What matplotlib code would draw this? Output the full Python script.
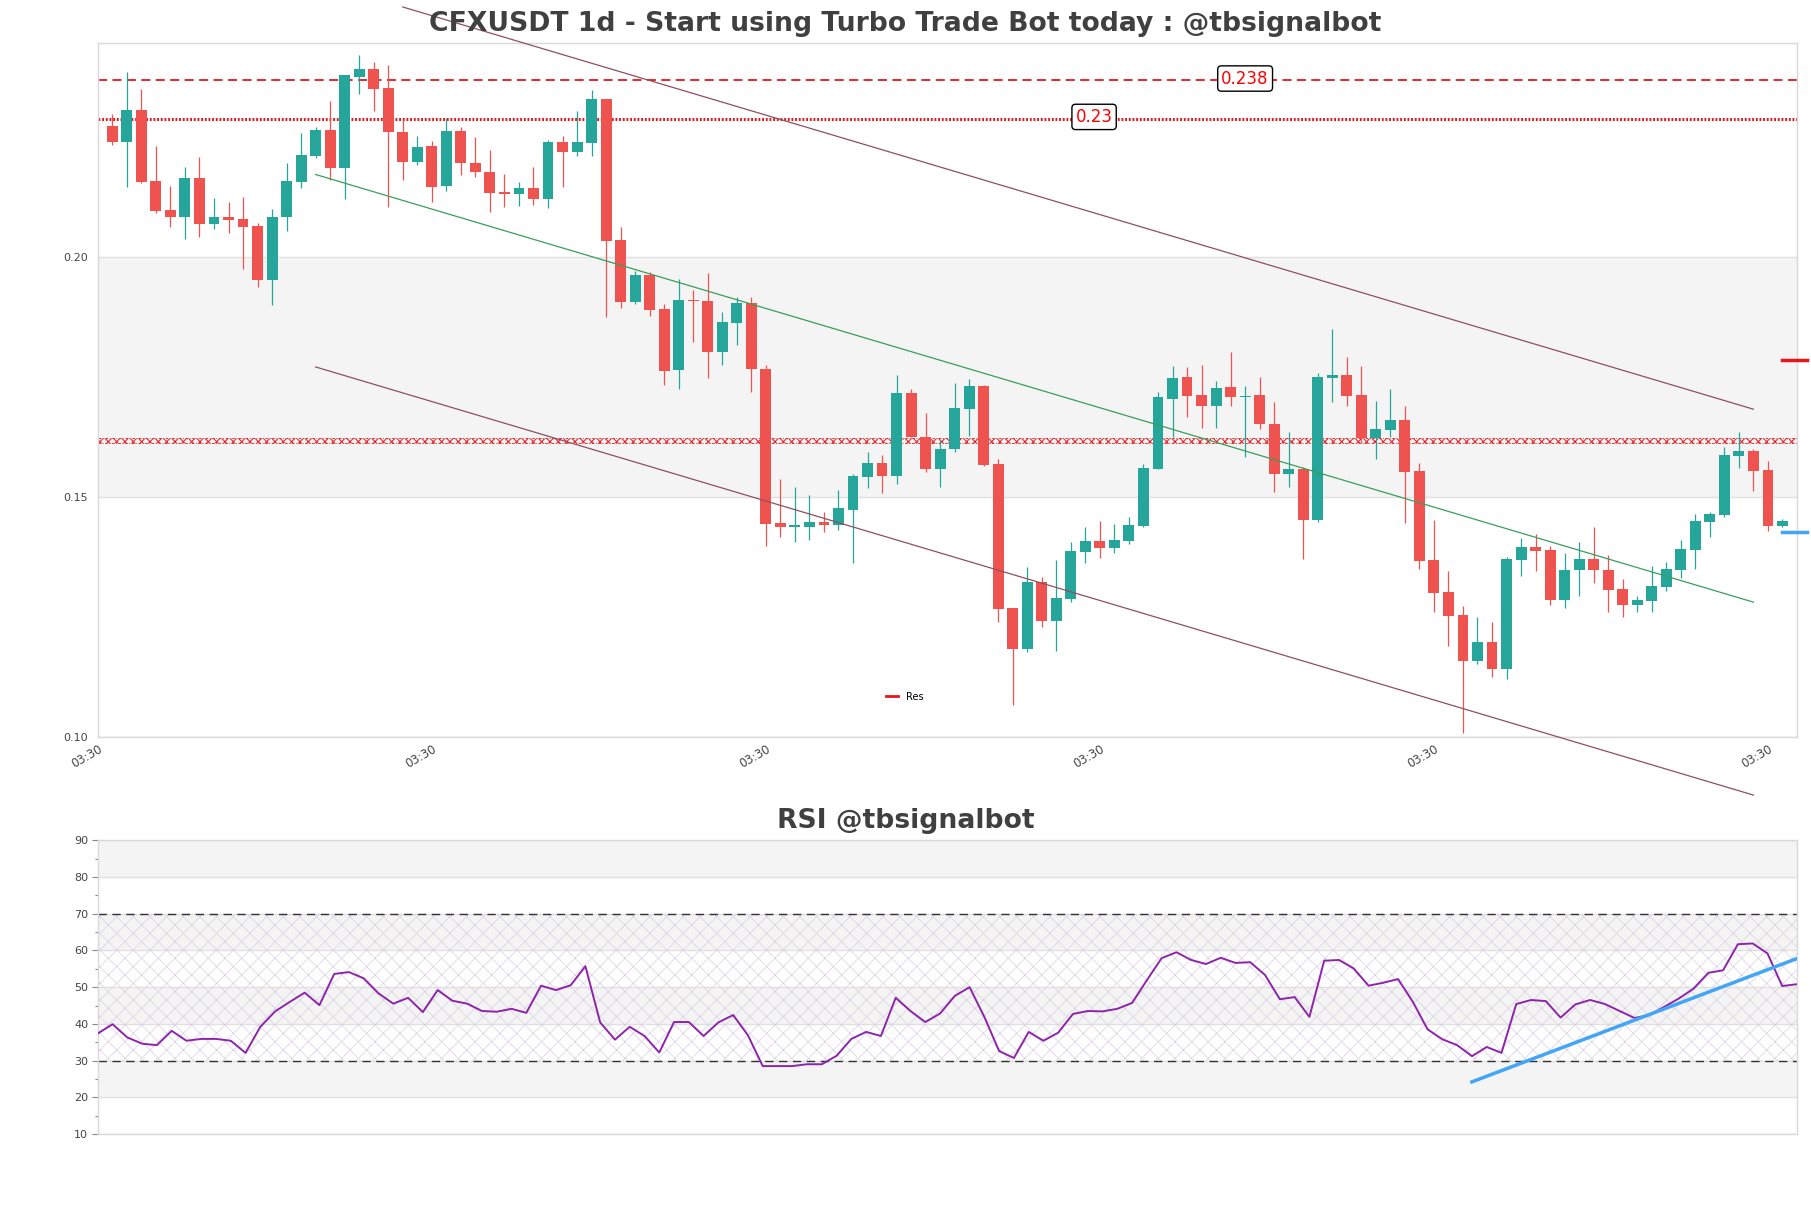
import matplotlib
matplotlib.use('Agg')
from matplotlib import pyplot as plt
from matplotlib.lines import Line2D

# candles (open, high, low, close)
opens = [0.2273, 0.2240, 0.2306, 0.2158, 0.2098, 0.2084, 0.2164, 0.2069, 0.2083, 0.2079,
         0.2065, 0.1952, 0.2083, 0.2157, 0.2211, 0.2264, 0.2186, 0.2376, 0.2392, 0.2352,
         0.2261, 0.2199, 0.2231, 0.2149, 0.2262, 0.2196, 0.2177, 0.2135, 0.2132, 0.2143,
         0.2121, 0.2240, 0.2219, 0.2238, 0.2330, 0.2035, 0.1907, 0.1962, 0.1891, 0.1764,
         0.1909, 0.1908, 0.1803, 0.1863, 0.1905, 0.1766, 0.1445, 0.1438, 0.1438, 0.1448,
         0.1442, 0.1474, 0.1542, 0.1570, 0.1544, 0.1716, 0.1626, 0.1558, 0.1600, 0.1683,
         0.1731, 0.1568, 0.1268, 0.1184, 0.1323, 0.1242, 0.1288, 0.1386, 0.1408, 0.1394,
         0.1409, 0.1440, 0.1559, 0.1704, 0.1751, 0.1712, 0.1690, 0.1730, 0.1708, 0.1712,
         0.1653, 0.1549, 0.1558, 0.1452, 0.1749, 0.1754, 0.1712, 0.1622, 0.1640, 0.1660,
         0.1554, 0.1369, 0.1302, 0.1254, 0.1159, 0.1198, 0.1142, 0.1369, 0.1396, 0.1390,
         0.1285, 0.1347, 0.1371, 0.1348, 0.1308, 0.1274, 0.1284, 0.1313, 0.1348, 0.1390,
         0.1449, 0.1462, 0.1586, 0.1596, 0.1556, 0.1440]
highs = [0.2299, 0.2386, 0.2351, 0.2232, 0.2148, 0.2187, 0.2208, 0.2123, 0.2114, 0.2125,
         0.2071, 0.2101, 0.2195, 0.2258, 0.2272, 0.2325, 0.2379, 0.2421, 0.2406, 0.2400,
         0.2285, 0.2252, 0.2242, 0.2290, 0.2270, 0.2250, 0.2223, 0.2174, 0.2156, 0.2188,
         0.2244, 0.2252, 0.2304, 0.2348, 0.2330, 0.2063, 0.1971, 0.1969, 0.1902, 0.1955,
         0.1931, 0.1966, 0.1886, 0.1917, 0.1917, 0.1776, 0.1537, 0.1521, 0.1505, 0.1469,
         0.1514, 0.1549, 0.1593, 0.1587, 0.1754, 0.1726, 0.1676, 0.1619, 0.1737, 0.1745,
         0.1733, 0.1579, 0.1268, 0.1355, 0.1333, 0.1369, 0.1407, 0.1438, 0.1450, 0.1444,
         0.1459, 0.1568, 0.1718, 0.1773, 0.1771, 0.1776, 0.1742, 0.1802, 0.1732, 0.1751,
         0.1697, 0.1635, 0.1562, 0.1759, 0.1850, 0.1792, 0.1773, 0.1700, 0.1725, 0.1690,
         0.1570, 0.1453, 0.1345, 0.1273, 0.1249, 0.1240, 0.1376, 0.1414, 0.1423, 0.1397,
         0.1383, 0.1407, 0.1438, 0.1379, 0.1329, 0.1294, 0.1356, 0.1365, 0.1410, 0.1465,
         0.1468, 0.1605, 0.1635, 0.1601, 0.1576, 0.1454]
lows = [0.2233, 0.2145, 0.2155, 0.2091, 0.2063, 0.2038, 0.2042, 0.2059, 0.2051, 0.1976,
        0.1937, 0.1901, 0.2055, 0.2143, 0.2206, 0.2160, 0.2120, 0.2340, 0.2305, 0.2105,
        0.2160, 0.2192, 0.2114, 0.2138, 0.2170, 0.2167, 0.2093, 0.2105, 0.2107, 0.2109,
        0.2103, 0.2147, 0.2211, 0.2211, 0.1876, 0.1893, 0.1902, 0.1878, 0.1733, 0.1725,
        0.1824, 0.1749, 0.1775, 0.1817, 0.1719, 0.1398, 0.1416, 0.1407, 0.1410, 0.1428,
        0.1431, 0.1362, 0.1518, 0.1509, 0.1528, 0.1626, 0.1553, 0.1520, 0.1593, 0.1628,
        0.1565, 0.1240, 0.1067, 0.1178, 0.1230, 0.1180, 0.1281, 0.1363, 0.1374, 0.1384,
        0.1403, 0.1438, 0.1558, 0.1626, 0.1667, 0.1644, 0.1644, 0.1690, 0.1584, 0.1642,
        0.1511, 0.1521, 0.1371, 0.1448, 0.1697, 0.1690, 0.1612, 0.1580, 0.1626, 0.1445,
        0.1351, 0.1261, 0.1190, 0.1009, 0.1153, 0.1124, 0.1121, 0.1335, 0.1346, 0.1275,
        0.1269, 0.1294, 0.1320, 0.1261, 0.1251, 0.1261, 0.1261, 0.1305, 0.1331, 0.1351,
        0.1416, 0.1458, 0.1561, 0.1513, 0.1430, 0.1438]
closes = [0.2240, 0.2306, 0.2157, 0.2097, 0.2084, 0.2164, 0.2069, 0.2083, 0.2078, 0.2063,
          0.1952, 0.2084, 0.2158, 0.2212, 0.2264, 0.2186, 0.2379, 0.2392, 0.2351, 0.2261,
          0.2199, 0.2229, 0.2147, 0.2262, 0.2195, 0.2178, 0.2134, 0.2132, 0.2143, 0.2121,
          0.2240, 0.2219, 0.2240, 0.2330, 0.2034, 0.1907, 0.1962, 0.1890, 0.1763, 0.1910,
          0.1908, 0.1803, 0.1864, 0.1905, 0.1766, 0.1444, 0.1438, 0.1440, 0.1448, 0.1442,
          0.1478, 0.1544, 0.1570, 0.1544, 0.1716, 0.1626, 0.1558, 0.1601, 0.1685, 0.1731,
          0.1567, 0.1266, 0.1184, 0.1323, 0.1242, 0.1290, 0.1388, 0.1408, 0.1394, 0.1410,
          0.1442, 0.1560, 0.1709, 0.1749, 0.1711, 0.1690, 0.1728, 0.1708, 0.1711, 0.1653,
          0.1549, 0.1558, 0.1453, 0.1751, 0.1755, 0.1711, 0.1622, 0.1642, 0.1660, 0.1553,
          0.1367, 0.1301, 0.1253, 0.1159, 0.1198, 0.1142, 0.1371, 0.1396, 0.1388, 0.1285,
          0.1348, 0.1371, 0.1347, 0.1306, 0.1274, 0.1285, 0.1315, 0.1350, 0.1392, 0.1450,
          0.1465, 0.1587, 0.1596, 0.1555, 0.1440, 0.1450]

rsi = [37.4, 39.9, 36.3, 34.6, 34.2, 38.1, 35.4, 35.9, 35.9, 35.4,
       32.1, 39.2, 43.4, 46.0, 48.5, 45.1, 53.6, 54.1, 52.4, 48.3,
       45.5, 47.1, 43.2, 49.2, 46.3, 45.5, 43.5, 43.3, 44.1, 43.0,
       50.4, 49.2, 50.5, 55.7, 40.4, 35.7, 39.2, 36.7, 32.2, 40.5,
       40.5, 36.7, 40.4, 42.4, 36.9, 28.5, 28.5, 28.5, 29.0, 29.0,
       31.3, 35.9, 37.8, 36.7, 47.1, 43.5, 40.5, 42.8, 47.6, 50.0,
       41.9, 32.6, 30.7, 37.8, 35.4, 37.6, 42.7, 43.5, 43.4, 44.1,
       45.7, 51.9, 57.9, 59.5, 57.4, 56.3, 58.0, 56.6, 56.8, 53.3,
       46.7, 47.3, 41.9, 57.2, 57.4, 55.1, 50.4, 51.2, 52.2, 46.0,
       38.5, 35.8, 34.2, 31.2, 33.7, 32.1, 45.4, 46.5, 46.2, 41.7,
       45.3, 46.5, 45.4, 43.5, 41.6, 42.4, 44.6, 46.9, 49.6, 53.9,
       54.6, 61.7, 61.9, 59.2, 50.3, 50.8]

tick_pos = [-1, 22, 45, 68, 91, 114]
tick_labels = ['03:30'] * 6

# fib style levels and their labels
levels = [0.2368, 0.2288]
level_labels = ['0.238', '0.23']
level_label_x = [78.0, 67.6]
res_level = 0.1618
right_marks = [0.1786, 0.1427]

# channel (start idx, start price, end idx, end price)
chan_upper = [20, 0.2521, 113, 0.1683]
chan_lower = [14, 0.1771, 113, 0.0879]
chan_mid = [14, 0.2172, 113, 0.1281]
rsi_trend = [93, 24.2, 115, 57.8]

UP = '#26a69a'
DOWN = '#ef5350'
W, H = 1811, 1208

fig = plt.figure(figsize=(W / 100, H / 100), dpi=100)
ax = fig.add_axes([97.8 / W, 1 - 737 / H, 1699.2 / W, 694 / H])
ax2 = fig.add_axes([97.8 / W, 1 - 1134 / H, 1699.2 / W, 293.7 / H])

for a in (ax, ax2):
    for s in a.spines.values():
        s.set_color('#d9d9d9')
        s.set_linewidth(1)

# price panel background
ax.axhspan(0.15, 0.20, color='#f4f4f4', zorder=0, lw=0)
for y in (0.10, 0.15, 0.20):
    ax.axhline(y, color='#e0e0e0', lw=1, zorder=0.5)

n = len(opens)
xs = list(range(n))
cols = [UP if c >= o else DOWN for o, c in zip(opens, closes)]
ax.vlines(xs, lows, highs, colors=cols, lw=0.9, zorder=3)
bottoms = [min(o, c) for o, c in zip(opens, closes)]
heights = [max(abs(c - o), 0.0003) for o, c in zip(opens, closes)]
ax.bar(xs, heights, bottom=bottoms, width=0.75, color=cols, lw=0, zorder=4)

# levels
ax.axhline(levels[0], color='#e8161b', lw=1.3, ls=(0, (5, 3)), zorder=2)
ax.axhline(levels[1], color='#e8161b', lw=2.2, ls=(0, (0.6, 0.6)), zorder=2)
for lv, lab, lx in zip(levels, level_labels, level_label_x):
    ax.text(lx, lv + 0.0004, lab, color='red', fontsize=12, ha='center', va='center',
            zorder=6, bbox=dict(boxstyle='round,pad=0.22', fc='white', ec='black', lw=1))

# resistance: thin hatched band with broken edges
plt.rcParams['hatch.linewidth'] = 0.7
ax.axhspan(res_level - 0.00045, res_level + 0.00045, fill=False, hatch='xxxx',
           edgecolor='#e8161b', lw=0.6, ls=(0, (3, 2, 1, 2)), zorder=2)

ax.plot([115, 116.7], [right_marks[0]] * 2, color='#e8161b', lw=2.5, clip_on=False, zorder=5)
ax.plot([115, 116.7], [right_marks[1]] * 2, color='#42a5f5', lw=2.5, clip_on=False, zorder=5)

# channel
for ln, c in ((chan_upper, '#8e5060'), (chan_lower, '#8e5060'), (chan_mid, '#3a9e5a')):
    ax.plot([ln[0], ln[2]], [ln[1], ln[3]], color=c, lw=0.9, clip_on=False, zorder=5)

ax.set_xlim(-1, 116)
ax.set_ylim(0.10, 0.2446)
ax.set_yticks([0.10, 0.15, 0.20])
ax.set_yticklabels(['0.10', '0.15', '0.20'])
ax.tick_params(axis='y', length=0, pad=7, labelsize=8, labelcolor='#444444')
ax.set_xticks(tick_pos)
ax.set_xticklabels(tick_labels, rotation=30, ha='right', rotation_mode='anchor')
ax.tick_params(axis='x', length=0, pad=4, labelsize=8.5, labelcolor='#444444')

ax.legend(handles=[Line2D([], [], color='#e8161b', lw=2)], labels=['Res'],
          loc='center', bbox_to_anchor=(0.475, 0.058), frameon=False, fontsize=7,
          handlelength=1.2)

# RSI panel
for lo in (20, 40, 60, 80):
    ax2.axhspan(lo, lo + 10, color='#f4f4f4', zorder=0, lw=0)
for y in range(10, 100, 10):
    ax2.axhline(y, color='#e0e0e0', lw=1, zorder=0.5)
plt.rcParams['hatch.linewidth'] = 0.5
ax2.axhspan(30, 70, fill=False, hatch='xx', edgecolor='#d8cfe2', lw=0, zorder=1)
ax2.axhline(30, color='#333333', lw=1, ls=(0, (6, 4)), zorder=2)
ax2.axhline(70, color='#333333', lw=1, ls=(0, (6, 4)), zorder=2)
ax2.plot(range(len(rsi)), rsi, color='#8e24aa', lw=1.4, zorder=4)
ax2.plot([rsi_trend[0], rsi_trend[2]], [rsi_trend[1], rsi_trend[3]], color='#42a5f5',
         lw=2.5, zorder=5)
ax2.set_xlim(0, len(rsi) - 1)
ax2.set_ylim(10, 90)
ax2.set_yticks(range(10, 100, 10))
ax2.set_yticks(range(15, 90, 10), minor=True)
ax2.tick_params(axis='y', which='major', length=4, width=0.8, color='#888888', pad=3,
                labelsize=8, labelcolor='#444444')
ax2.tick_params(axis='y', which='minor', length=2.5, width=0.8, color='#888888')
ax2.set_xticks([])

fig.text(0.5, 1 - 24 / H, 'CFXUSDT 1d - Start using Turbo Trade Bot today : @tbsignalbot',
         ha='center', va='center', fontsize=19.2, fontweight='bold', color='#404040')
fig.text(0.5, 1 - 821 / H, 'RSI @tbsignalbot', ha='center', va='center', fontsize=19.2,
         fontweight='bold', color='#404040')

fig.savefig('out.png', dpi=100)
